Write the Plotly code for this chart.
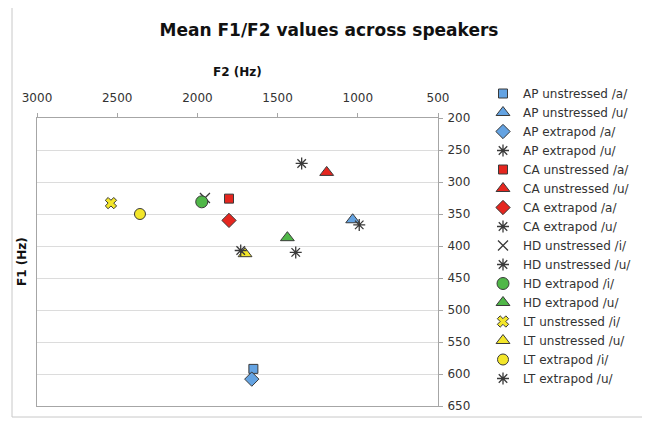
import plotly.graph_objects as go

# ---- data ----
series_names = [
    "AP unstressed /a/", "AP unstressed /u/", "AP extrapod /a/", "AP extrapod /u/",
    "CA unstressed /a/", "CA unstressed /u/", "CA extrapod /a/", "CA extrapod /u/",
    "HD unstressed /i/", "HD unstressed /u/", "HD extrapod /i/", "HD extrapod /u/",
    "LT unstressed /i/", "LT unstressed /u/", "LT extrapod /i/", "LT extrapod /u/",
]
f2_values = [1651, 1032, 1661, 991,
             1803, 1194, 1803, 1350,
             1953, 1387, 1973, 1439,
             2539, 1703, 2358, 1730]
f1_values = [592, 359, 608, 367,
             326, 285, 360, 271,
             325, 410, 331, 387,
             333, 412, 350, 407]
x_ticks = [3000, 2500, 2000, 1500, 1000, 500]
y_ticks = [200, 250, 300, 350, 400, 450, 500, 550, 600, 650]

# ---- styles ----
BLUE, RED, GREEN, YELLOW = "#64a3e2", "#e5261f", "#50b748", "#f3e62a"
OUT = "#3a3a3a"
styles = [
    ("square", BLUE, 9), ("triangle-up", BLUE, 12), ("diamond", BLUE, 11), ("asterisk-open", None, 10),
    ("square", RED, 9), ("triangle-up", RED, 12), ("diamond", RED, 11), ("asterisk-open", None, 10),
    ("x-thin-open", None, 10), ("asterisk-open", None, 10), ("circle", GREEN, 12), ("triangle-up", GREEN, 12),
    ("x", YELLOW, 10), ("triangle-up", YELLOW, 12), ("circle", YELLOW, 11), ("asterisk-open", None, 10),
]

# page body has an 8px margin; work in figure-internal pixels
OFF = 8
W, H = 650 - OFF, 421 - OFF
PL, PR, PT, PB = 37 - OFF, 438 - OFF, 118 - OFF, 406 - OFF  # plot area edges
PW, PH = PR - PL, PB - PT


def px_x(p):  # page pixel -> paper x
    return (p - OFF - PL) / PW


def px_y(p):  # page pixel -> paper y
    return 1 - (p - OFF - PT) / PH


fig = go.Figure()
for name, fx, fy, (sym, col, size) in zip(series_names, f2_values, f1_values, styles):
    if col is None:
        marker = dict(symbol=sym, size=size, color=OUT, line=dict(color=OUT, width=1.3))
    else:
        marker = dict(symbol=sym, size=size, color=col, line=dict(color=OUT, width=1))
    fig.add_trace(go.Scatter(x=[fx], y=[fy], mode="markers", name=name, marker=marker))

FONT = "DejaVu Sans"
fig.update_layout(
    width=W, height=H,
    margin=dict(l=PL, r=W - PR, t=PT, b=H - PB, autoexpand=False),
    paper_bgcolor="white", plot_bgcolor="white",
    font=dict(family=FONT, size=12, color="#333333"),
    title=dict(text="<b>Mean F1/F2 values across speakers</b>", x=(329 - OFF) / W, xref="container",
               y=1 - (30 - OFF) / H, yref="container", yanchor="middle", xanchor="center",
               font=dict(family=FONT, size=17, color="#111111")),
    xaxis=dict(side="top", range=[x_ticks[0], x_ticks[-1]], tickvals=x_ticks,
               showgrid=False, zeroline=False, showline=True, linecolor="#a6a6a6", linewidth=1,
               mirror=True, ticks="outside", ticklen=4, tickcolor="#a6a6a6",
               ticklabelstandoff=6,
               tickfont=dict(size=12, color="#333333")),
    yaxis=dict(side="right", range=[y_ticks[-1], y_ticks[0]], tickvals=y_ticks,
               showgrid=True, gridcolor="#dcdcdc", gridwidth=1, zeroline=False,
               showline=True, linecolor="#a6a6a6", linewidth=1, mirror=True,
               ticks="outside", ticklen=4, tickcolor="#a6a6a6",
               ticklabelstandoff=2,
               tickfont=dict(size=12, color="#333333")),
    legend=dict(x=px_x(483), xanchor="left",
                yref="container", y=1 - (79 - OFF) / H, yanchor="top",
                maxheight=400,
                font=dict(family=FONT, size=12, color="#333333"),
                bgcolor="rgba(0,0,0,0)", borderwidth=0),
    showlegend=True,
    annotations=[
        dict(text="<b>F2 (Hz)</b>", xref="paper", yref="paper", x=0.5, y=px_y(72),
             showarrow=False, font=dict(family=FONT, size=12, color="#111111"),
             xanchor="center", yanchor="middle"),
        dict(text="<b>F1 (Hz)</b>", xref="paper", yref="paper", x=px_x(22), y=0.5,
             textangle=-90, showarrow=False, font=dict(family=FONT, size=12, color="#111111"),
             xanchor="center", yanchor="middle"),
    ],
    shapes=[dict(type="rect", xref="paper", yref="paper",
                 x0=px_x(12), x1=px_x(646), y0=px_y(417), y1=px_y(6),
                 line=dict(color="#c8c8c8", width=1), layer="below")],
)

fig.write_html("out.html")
